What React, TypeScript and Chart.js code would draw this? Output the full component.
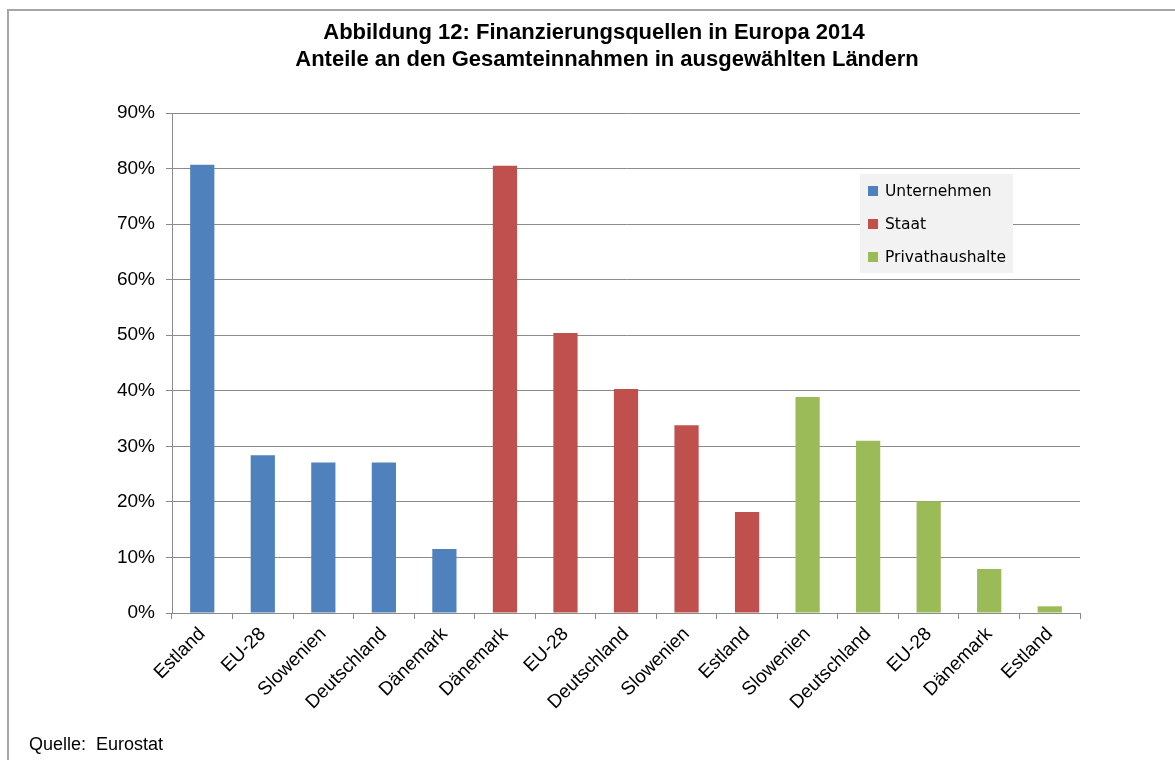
import React, { useEffect, useRef } from "react";
import { Chart, registerables } from "chart.js";

Chart.register(...registerables);

const titleLines = [
  "Abbildung 12: Finanzierungsquellen in Europa 2014",
  "Anteile an den Gesamteinnahmen in ausgewählten Ländern",
];
const sourceText = "Quelle:  Eurostat";

const categories = [
  "Estland", "EU-28", "Slowenien", "Deutschland", "Dänemark",
  "Dänemark", "EU-28", "Deutschland", "Slowenien", "Estland",
  "Slowenien", "Deutschland", "EU-28", "Dänemark", "Estland",
];
const seriesNames = ["Unternehmen", "Staat", "Privathaushalte"];
const seriesColors = ["#4F81BD", "#C0504D", "#9BBB59"];
const unternehmen = [80.7, 28.4, 27.1, 27.1, 11.5, null, null, null, null, null, null, null, null, null, null];
const staat = [null, null, null, null, null, 80.5, 50.4, 40.3, 33.8, 18.2, null, null, null, null, null];
const privathaushalte = [null, null, null, null, null, null, null, null, null, null, 38.9, 31.0, 20.1, 7.9, 1.2];
const yMin = 0;
const yMax = 90;
const yStep = 10;

const FONT = "'Liberation Sans', Arial, sans-serif";
const GRID = "#8a8a8a";

const decorPlugin = {
  id: "decor",
  afterDraw(chart: any) {
    const ctx = chart.ctx;
    ctx.save();
    // Title
    ctx.fillStyle = "#000";
    ctx.textAlign = "center";
    ctx.textBaseline = "middle";
    ctx.font = `bold 22px ${FONT}`;
    ctx.fillText(titleLines[0], 594, 33);
    ctx.fillText(titleLines[1], 607, 60);
    // Source
    ctx.textAlign = "left";
    ctx.font = `18px ${FONT}`;
    ctx.fillText(sourceText, 29, 745);
    // Legend box
    const lx = 860, ly = 174, lw = 153, lh = 99;
    ctx.fillStyle = "#f2f2f2";
    ctx.fillRect(lx, ly, lw, lh);
    ctx.font = `15.5px 'DejaVu Sans', sans-serif`;
    seriesNames.forEach((name, i) => {
      const cy = 191 + i * 33;
      ctx.fillStyle = seriesColors[i];
      ctx.fillRect(868, cy - 5, 10, 10);
      ctx.fillStyle = "#000";
      ctx.fillText(name, 885, cy + 1);
    });
    ctx.restore();
  },
};

export default function App() {
  const ref = useRef<HTMLCanvasElement | null>(null);
  useEffect(() => {
    if (!ref.current) return;
    const datasets = [unternehmen, staat, privathaushalte].map((d, i) => ({
      label: seriesNames[i],
      data: d,
      backgroundColor: seriesColors[i],
      borderWidth: 0,
      barPercentage: 0.4,
      categoryPercentage: 1,
    }));
    const chart = new Chart(ref.current, {
      type: "bar",
      data: { labels: categories, datasets },
      options: {
        responsive: false,
        animation: false,
        devicePixelRatio: 1,
        layout: { padding: { left: 10, right: 95, top: 113, bottom: 0 } },
        plugins: {
          legend: { display: false },
          title: { display: false },
          tooltip: { enabled: false },
        },
        scales: {
          x: {
            stacked: true,
            offset: true,
            grid: {
              offset: true,
              drawOnChartArea: false,
              drawTicks: true,
              tickLength: 6,
              color: GRID,
            },
            border: { color: GRID, width: 1 },
            ticks: {
              autoSkip: false,
              maxRotation: 45,
              minRotation: 45,
              color: "#000",
              padding: 4,
              font: { family: FONT, size: 19 },
            },
            afterFit: (s: any) => {
              s.height = 147;
            },
          },
          y: {
            stacked: true,
            min: yMin,
            max: yMax,
            ticks: {
              stepSize: yStep,
              color: "#000",
              padding: 11,
              font: { family: FONT, size: 19 },
              callback: (v: any) => `${v}%`,
            },
            grid: { color: GRID, tickLength: 6, lineWidth: 1 },
            border: { color: GRID, width: 1 },
            afterFit: (s: any) => {
              s.width = 162;
            },
          },
        },
      },
      plugins: [decorPlugin],
    });
    return () => chart.destroy();
  }, []);
  return (
    <div style={{ position: "fixed", left: 0, top: 0, width: 1175, height: 760, background: "#fff", overflow: "hidden" }}>
      <div
        style={{
          position: "absolute",
          left: 7,
          top: 9,
          width: 1200,
          height: 800,
          borderTop: "2px solid #a6a6a6",
          borderLeft: "2px solid #a6a6a6",
        }}
      />
      <canvas ref={ref} width={1175} height={760} style={{ position: "absolute", left: 0, top: 0, display: "block" }} />
    </div>
  );
}
